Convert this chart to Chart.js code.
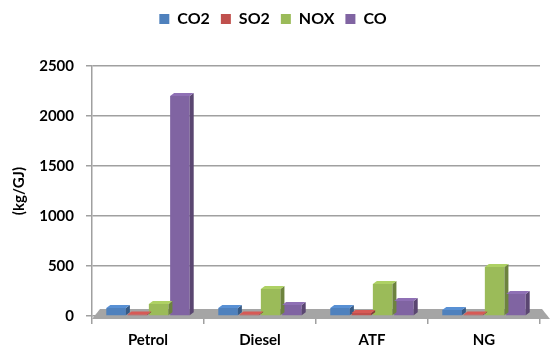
<!DOCTYPE html>
<html>
<head>
<meta charset="utf-8">
<script src="https://cdn.jsdelivr.net/npm/chart.js@4/dist/chart.umd.min.js"></script>
<style>
  html, body { margin: 0; padding: 0; background: #ffffff; }
  #wrap { width: 550px; height: 348px; position: relative; }
</style>
</head>
<body>
<div id="wrap"><canvas id="c"></canvas></div>
<script>
// Emission factors per fuel (kg/GJ)
const fuels = ['Petrol', 'Diesel', 'ATF', 'NG'];
const co2 = [80, 80, 80, 60];
const so2 = [15, 15, 30, 15];
const nox = [120, 270, 320, 490];
const co  = [2200, 110, 150, 220];
const yTicks = [0, 500, 1000, 1500, 2000, 2500];

const colors = {
  CO2: '#4F81BD',
  SO2: '#C0504D',
  NOX: '#9BBB59',
  CO:  '#8064A2'
};

function shade(hex, f) {
  const n = parseInt(hex.slice(1), 16);
  let r = (n >> 16) & 255, g = (n >> 8) & 255, b = n & 255;
  r = Math.round(r * f); g = Math.round(g * f); b = Math.round(b * f);
  return 'rgb(' + Math.min(255, r) + ',' + Math.min(255, g) + ',' + Math.min(255, b) + ')';
}

// Extra room between the legend and the plot
const legendGap = {
  id: 'legendGap',
  beforeInit(chart) {
    const orig = chart.legend.fit;
    chart.legend.fit = function () {
      orig.call(this);
      this.height += 29;
    };
  }
};

// Grey floor under the bars
const floorPlugin = {
  id: 'floor',
  beforeDatasetsDraw(chart) {
    const { ctx, chartArea } = chart;
    const y0 = chart.scales.y.getPixelForValue(0);
    ctx.save();
    ctx.fillStyle = '#a5a5a5';
    ctx.beginPath();
    ctx.moveTo(chartArea.left, y0 + 3);
    ctx.lineTo(chartArea.left + 8, y0 - 7);
    ctx.lineTo(chartArea.right + 2, y0 - 7);
    ctx.lineTo(chartArea.right + 10, y0 + 3);
    ctx.closePath();
    ctx.fill();
    ctx.restore();
  }
};

// Depth faces (top and right side) on each bar
const depthPlugin = {
  id: 'depth',
  afterDatasetsDraw(chart) {
    const { ctx } = chart;
    const dx = 4, dy = -3;
    chart.data.datasets.forEach((ds, i) => {
      const meta = chart.getDatasetMeta(i);
      meta.data.forEach(bar => {
        const l = bar.x - bar.width / 2, r = bar.x + bar.width / 2;
        const t = bar.y, b = bar.base;
        ctx.save();
        ctx.fillStyle = shade(ds.backgroundColor, 0.7);
        ctx.beginPath();
        ctx.moveTo(r, t); ctx.lineTo(r + dx, t + dy);
        ctx.lineTo(r + dx, b + dy); ctx.lineTo(r, b);
        ctx.closePath(); ctx.fill();
        ctx.fillStyle = shade(ds.backgroundColor, 1.12);
        ctx.beginPath();
        ctx.moveTo(l, t); ctx.lineTo(l + dx, t + dy);
        ctx.lineTo(r + dx, t + dy); ctx.lineTo(r, t);
        ctx.closePath(); ctx.fill();
        ctx.restore();
      });
    });
  }
};

const boldFont = { family: "Lato, 'Open Sans', sans-serif", size: 15, weight: 'bold' };

new Chart(document.getElementById('c'), {
  type: 'bar',
  data: {
    labels: fuels,
    datasets: [
      { label: 'CO2', data: co2, backgroundColor: colors.CO2 },
      { label: 'SO2', data: so2, backgroundColor: colors.SO2 },
      { label: 'NOX', data: nox, backgroundColor: colors.NOX },
      { label: 'CO',  data: co,  backgroundColor: colors.CO }
    ]
  },
  options: {
    responsive: true,
    maintainAspectRatio: false,
    animation: false,
    layout: { padding: { top: 0, right: 10, left: 6, bottom: 0 } },
    datasets: { bar: { categoryPercentage: 0.76, barPercentage: 0.92 } },
    plugins: {
      legend: {
        position: 'top',
        labels: {
          font: { family: "Lato, 'Open Sans', sans-serif", size: 16, weight: 'bold' },
          color: '#000',
          boxWidth: 10,
          boxHeight: 10,
          padding: 11
        }
      },
      tooltip: { enabled: false }
    },
    scales: {
      x: {
        grid: {
          display: true,
          offset: true,
          drawOnChartArea: false,
          color: '#a0a0a0',
          tickLength: 8,
          lineWidth: 1.5
        },
        border: { display: false },
        ticks: { font: boldFont, color: '#000', padding: 7 },
        afterFit(scale) { scale.height = 32; }
      },
      y: {
        min: 0,
        max: 2500,
        afterBuildTicks(scale) { scale.ticks = yTicks.map(v => ({ value: v })); },
        grid: { color: '#a0a0a0', lineWidth: 1.5, tickLength: 6 },
        border: { display: true, color: '#a0a0a0', width: 1.5 },
        ticks: {
          font: boldFont,
          color: '#000',
          padding: 12,
          callback: v => String(v)
        },
        title: { display: true, text: '(kg/GJ)', font: boldFont, color: '#000', padding: 4 },
        afterFit(scale) { scale.width = 86; }
      }
    }
  },
  plugins: [legendGap, floorPlugin, depthPlugin]
});
</script>
</body>
</html>
